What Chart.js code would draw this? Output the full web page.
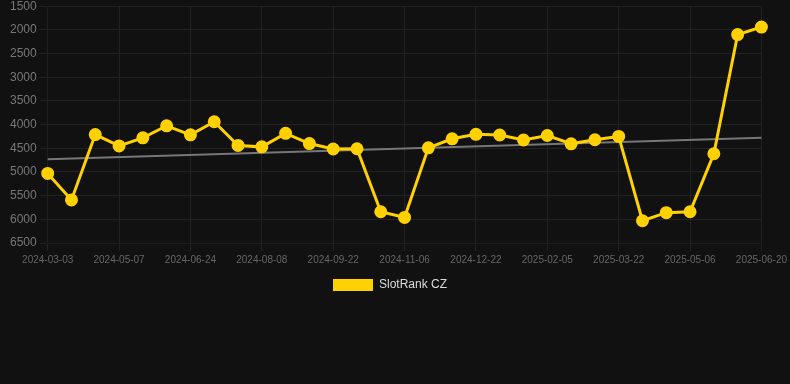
<!DOCTYPE html>
<html lang="en">
<head>
  <meta charset="UTF-8" />
  <title>SlotRank CZ</title>
  <script src="https://cdn.jsdelivr.net/npm/chart.js"></script>
  <style>
    body {
      margin: 0;
      background: #111111;
      overflow: hidden;
    }
    .chart-box {
      width: 790px;
      height: 305px;
      margin-top: -4px;
    }
  </style>
</head>
<body>
  <div class="chart-box">
    <canvas id="rankChart"></canvas>
  </div>

  <script>
    const dates = [
      '2024-03-03', '2024-03-25', '2024-04-16', '2024-05-07', '2024-05-23', '2024-06-08',
      '2024-06-24', '2024-07-09', '2024-07-24', '2024-08-08', '2024-08-23', '2024-09-07',
      '2024-09-22', '2024-10-07', '2024-10-22', '2024-11-06', '2024-11-21', '2024-12-07',
      '2024-12-22', '2025-01-06', '2025-01-21', '2025-02-05', '2025-02-20', '2025-03-07',
      '2025-03-22', '2025-04-06', '2025-04-21', '2025-05-06', '2025-05-21', '2025-06-05',
      '2025-06-20'
    ];
    const ranks = [
      5030, 5590, 4210, 4450, 4280, 4025, 4215, 3940, 4440, 4470, 4185, 4400,
      4515, 4510, 5840, 5960, 4490, 4300, 4205, 4220, 4325, 4230, 4405, 4320,
      4250, 6030, 5860, 5840, 4615, 2100, 1940
    ];
    // trend line end values
    const trendStart = 4730;
    const trendEnd = 4280;
    const yTicks = { min: 1500, max: 6500, step: 500 };

    const trend = dates.map((d, i) => i === 0 ? trendStart : (i === dates.length - 1 ? trendEnd : null));

    const ctx = document.getElementById('rankChart').getContext('2d');
    new Chart(ctx, {
      type: 'line',
      data: {
        labels: dates,
        datasets: [{
          label: 'SlotRank CZ',
          data: ranks,
          borderColor: '#ffd100',
          backgroundColor: '#ffd100',
          borderWidth: 3,
          pointRadius: 5,
          pointHoverRadius: 6,
          tension: 0
        }, {
          label: 'trend',
          data: trend,
          borderColor: '#777777',
          borderWidth: 2,
          pointRadius: 0,
          spanGaps: true
        }]
      },
      options: {
        responsive: true,
        maintainAspectRatio: false,
        animation: false,
        layout: { padding: { left: 7, right: 17 } },
        plugins: {
          legend: {
            position: 'bottom',
            labels: {
              color: '#dddddd',
              font: { family: 'Liberation Sans', size: 12 },
              boxWidth: 40,
              boxHeight: 12,
              generateLabels: chart => Chart.defaults.plugins.legend.labels.generateLabels(chart)
                .filter(item => item.text !== 'trend')
                .map(item => ({ ...item, lineWidth: 0 }))
            }
          },
          tooltip: { enabled: false }
        },
        scales: {
          x: {
            grid: { color: '#222222' },
            ticks: {
              color: '#666666',
              font: { family: 'Liberation Sans', size: 10 },
              maxRotation: 0,
              autoSkip: true,
              maxTicksLimit: 11
            }
          },
          y: {
            reverse: true,
            min: yTicks.min,
            max: yTicks.max,
            grid: { color: '#222222' },
            ticks: {
              stepSize: yTicks.step,
              color: '#777777',
              font: { family: 'Liberation Sans', size: 12 },
              callback: v => String(v)
            }
          }
        }
      }
    });
  </script>
</body>
</html>
